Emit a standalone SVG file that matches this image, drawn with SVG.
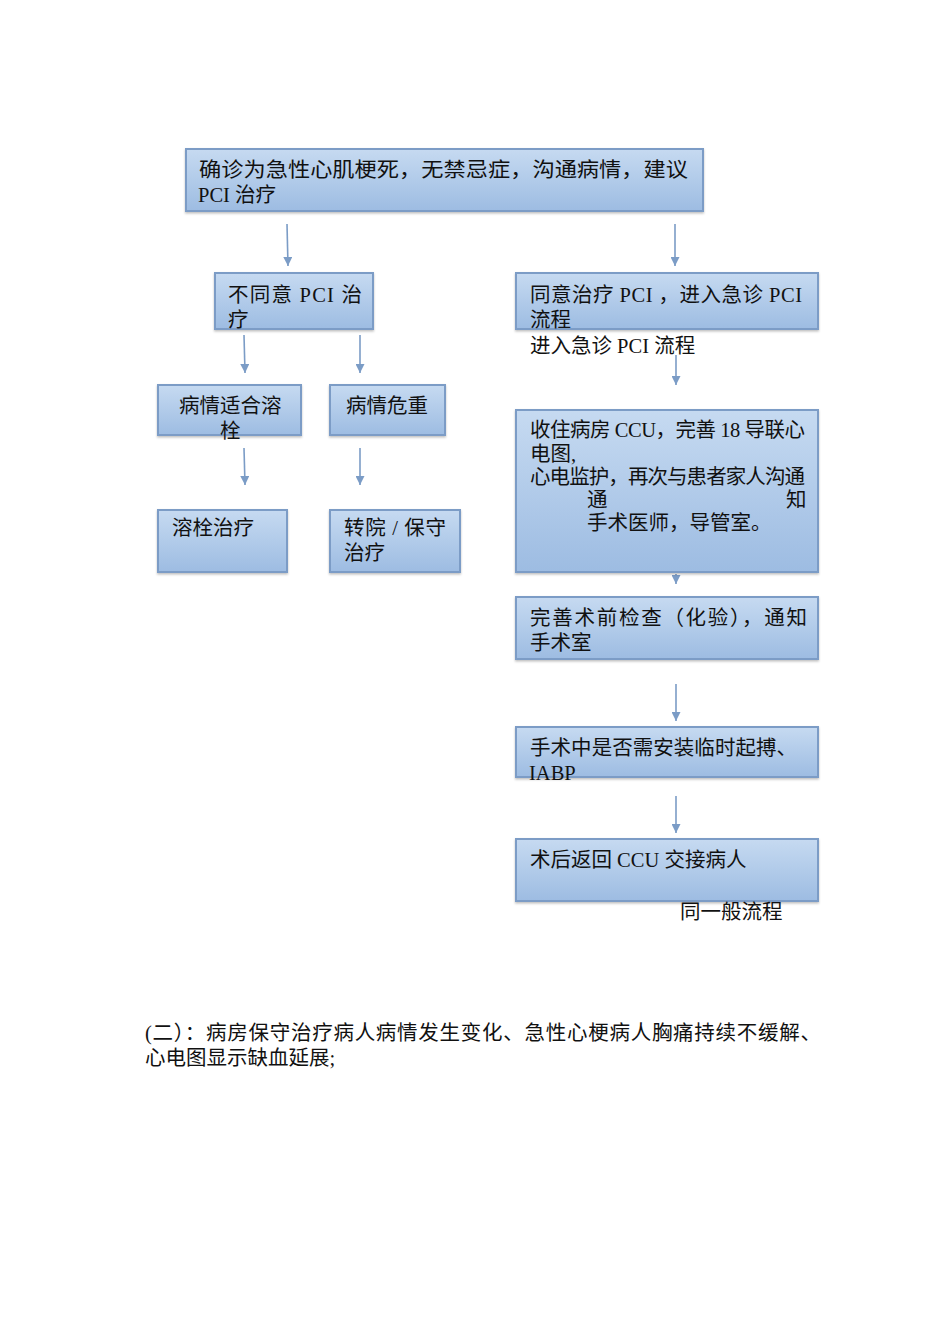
<svg xmlns="http://www.w3.org/2000/svg" width="950" height="1344" viewBox="0 0 950 1344">
<style>
.box{fill:url(#g);stroke:#7b9cc6;stroke-width:2;filter:url(#sh)}
.t{font-family:"Liberation Serif","Noto Sans CJK SC",serif;font-size:20.5px;fill:#111}
.c{stroke:#7b9cc6;stroke-width:1.6;fill:none;marker-end:url(#ah)}
</style>
<defs>
<linearGradient id="g" x1="0" y1="0" x2="0" y2="1">
<stop offset="0" stop-color="#c6daf1"/>
<stop offset="1" stop-color="#9dbce2"/>
</linearGradient>
<filter id="sh" x="-5%" y="-10%" width="110%" height="130%">
<feDropShadow dx="0" dy="1.5" stdDeviation="1" flood-color="#000" flood-opacity="0.25"/>
</filter>
<marker id="ah" markerWidth="9" markerHeight="9" refX="9" refY="4.5" orient="auto" markerUnits="userSpaceOnUse" viewBox="0 0 9 9">
<path d="M0,0 L9,4.5 L0,9 Z" fill="#7b9cc6"/>
</marker>
</defs>
<rect width="950" height="1344" fill="#fff"/>
<g id="connectors">
<path class="c" d="M287,224 L288,266"/>
<path class="c" d="M675,224 L675,266"/>
<path class="c" d="M244,335 L245,373"/>
<path class="c" d="M360,335 L360,373"/>
<path class="c" d="M244,448 L245,485"/>
<path class="c" d="M360,448 L360,485"/>
<path class="c" d="M676,355 L676,385"/>
<path class="c" d="M676,574 L676,584"/>
<path class="c" d="M676,684 L676,721"/>
<path class="c" d="M676,796 L676,833"/>
</g>
<g id="n1"><rect class="box" x="186" y="149" width="517" height="62"/>
<text class="t" x="199" y="177" textLength="489" lengthAdjust="spacingAndGlyphs">确诊为急性心肌梗死，无禁忌症，沟通病情，建议</text>
<text class="t" x="198" y="202">PCI 治疗</text></g>
<g id="n2"><rect class="box" x="215" y="273" width="158" height="56"/>
<text class="t" x="228" y="302" textLength="134" lengthAdjust="spacing">不同意 PCI 治</text>
<text class="t" x="228" y="327">疗</text></g>
<g id="n3"><rect class="box" x="516" y="273" width="302" height="56"/>
<text class="t" x="530" y="302" textLength="272" lengthAdjust="spacing">同意治疗 PCI ，进入急诊 PCI</text>
<text class="t" x="530" y="327">流程</text></g>
<g id="lbl1"><text class="t" x="530" y="353">进入急诊 PCI 流程</text></g>
<g id="n4"><rect class="box" x="158" y="385" width="143" height="50"/>
<text class="t" x="179" y="413">病情适合溶</text>
<text class="t" x="220" y="438">栓</text></g>
<g id="n5"><rect class="box" x="330" y="385" width="115" height="50"/>
<text class="t" x="346" y="413">病情危重</text></g>
<g id="n6"><rect class="box" x="158" y="510" width="129" height="62"/>
<text class="t" x="172" y="535">溶栓治疗</text></g>
<g id="n7"><rect class="box" x="330" y="510" width="130" height="62"/>
<text class="t" x="344" y="535" textLength="102" lengthAdjust="spacing">转院 / 保守</text>
<text class="t" x="344" y="560">治疗</text></g>
<g id="n8"><rect class="box" x="516" y="410" width="302" height="162"/>
<text class="t" x="530" y="437" textLength="275" lengthAdjust="spacing">收住病房 CCU，完善 18 导联心</text>
<text class="t" x="530" y="461">电图,</text>
<text class="t" x="530" y="484" textLength="275" lengthAdjust="spacing">心电监护，再次与患者家人沟通</text>
<text class="t" x="587" y="507">通</text>
<text class="t" x="786" y="507">知</text>
<text class="t" x="587" y="530">手术医师，导管室。</text></g>
<g id="n9"><rect class="box" x="516" y="597" width="302" height="62"/>
<text class="t" x="530" y="625" textLength="277" lengthAdjust="spacing">完善术前检查（化验），通知</text>
<text class="t" x="530" y="650">手术室</text></g>
<g id="n10"><rect class="box" x="516" y="727" width="302" height="50"/>
<text class="t" x="530" y="755" textLength="267" lengthAdjust="spacing">手术中是否需安装临时起搏、</text>
<text class="t" x="529" y="780">IABP</text></g>
<g id="n11"><rect class="box" x="516" y="839" width="302" height="62"/>
<text class="t" x="530" y="867">术后返回 CCU 交接病人</text></g>
<g id="lbl2"><text class="t" x="680" y="919">同一般流程</text></g>
<g id="para">
<text class="t" x="145" y="1040" textLength="676" lengthAdjust="spacing">(二）：病房保守治疗病人病情发生变化、急性心梗病人胸痛持续不缓解、</text>
<text class="t" x="145" y="1065">心电图显示缺血延展;</text>
</g>
</svg>
